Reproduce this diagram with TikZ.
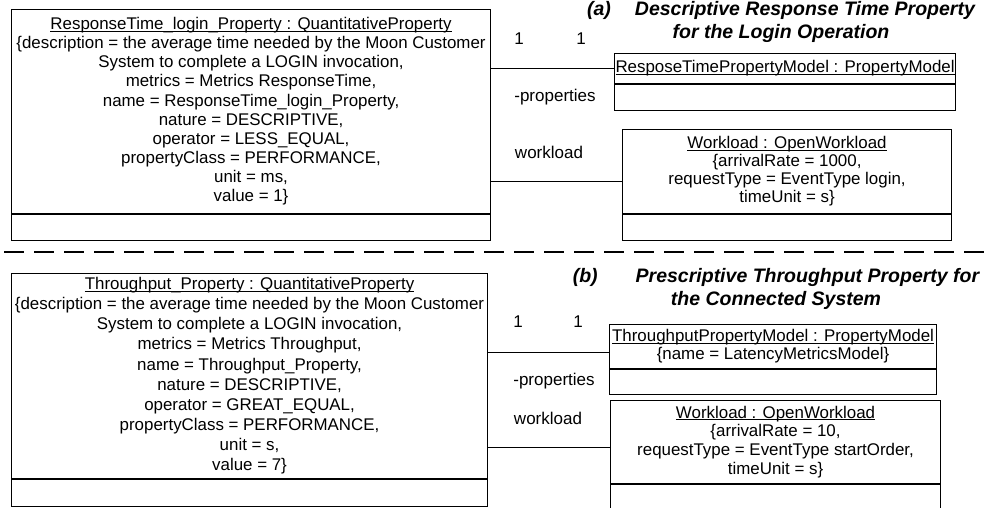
\documentclass[tikz,border=0pt]{standalone}
\usepackage{fontspec}
\setmainfont{Liberation Sans}
\usetikzlibrary{positioning}

\newcommand{\objname}[1]{\underline{\smash{#1}}\vphantom{Ay}}

\tikzset{
  objpart/.style={draw, line width=1.1pt, inner sep=0pt, align=center,
    font=\fontsize{16.9}{#1}\selectfont},
  objpart/.default=19,
  objempty/.style={draw, line width=1.1pt, inner sep=0pt, minimum height=26pt},
  assoc/.style={line width=0.8pt},
  rolelabel/.style={font=\fontsize{17}{19}\selectfont},
  captiontext/.style={font=\fontsize{19.5}{22.5}\selectfont\bfseries\itshape, align=center},
  sepline/.style={line width=2.6pt, dash pattern=on 19.5pt off 10.5pt}
}

\begin{document}
\begin{tikzpicture}[x=1pt,y=-1pt]
  \useasboundingbox (0,0) rectangle (989,508);

  % (a) Descriptive response time property
  \node[objpart=19.1, anchor=north west, minimum width=479pt, minimum height=204pt] (rtprop) at (11,9)
    {\objname{ResponseTime\_login\_Property : QuantitativeProperty}\\
     \{description = the average time needed by the Moon Customer\\
     System to complete a LOGIN invocation,\\
     metrics = Metrics ResponseTime,\\
     name = ResponseTime\_login\_Property,\\
     nature = DESCRIPTIVE,\\
     operator = LESS\_EQUAL,\\
     propertyClass = PERFORMANCE,\\
     unit = ms,\\
     value = 1\}};
  \node[objempty, minimum width=479pt, below=0pt of rtprop] (rtpropops) {};

  \node[objpart, anchor=north west, minimum width=341pt, minimum height=30pt] (rtmodel) at (614,53)
    {\objname{ResposeTimePropertyModel : PropertyModel}};
  \node[objempty, minimum width=341pt, below=0pt of rtmodel] (rtmodelops) {};

  \node[objpart=17.8, anchor=north west, minimum width=329pt, minimum height=84pt] (rtwork) at (622,129)
    {\objname{Workload : OpenWorkload}\\
     \{arrivalRate = 1000,\\
     requestType = EventType login,\\
     timeUnit = s\}};
  \node[objempty, minimum width=329pt, below=0pt of rtwork] (rtworkops) {};

  \draw[assoc] (rtprop.east |- 0,68) -- (rtmodel.west |- 0,68);
  \draw[assoc] (rtprop.east |- 0,181) -- (rtwork.west |- 0,181);

  \node[rolelabel] (rtmult1) at (519,39) {1};
  \node[rolelabel] (rtmult2) at (581,39) {1};
  \node[rolelabel] (rtrole1) at (555,97) {-properties};
  \node[rolelabel] (rtrole2) at (549,152) {workload};

  \node[captiontext] (capa) at (781,22)
    {(a)\hspace{24pt}Descriptive Response Time Property\\for the Login Operation};

  % separator
  \draw[sepline] (4,252) -- (989,252);

  % (b) Prescriptive throughput property
  \node[objpart=20.1, anchor=north west, minimum width=476pt, minimum height=205pt] (tpprop) at (11,273)
    {\objname{Throughput\_Property : QuantitativeProperty}\\
     \{description = the average time needed by the Moon Customer\\
     System to complete a LOGIN invocation,\\
     metrics = Metrics Throughput,\\
     name = Throughput\_Property,\\
     nature = DESCRIPTIVE,\\
     operator = GREAT\_EQUAL,\\
     propertyClass = PERFORMANCE,\\
     unit = s,\\
     value = 7\}};
  \node[objempty, minimum width=476pt, minimum height=27pt, below=0pt of tpprop] (tppropops) {};

  \node[objpart=18, anchor=north west, minimum width=327pt, minimum height=44pt] (tpmodel) at (609,324)
    {\objname{ThroughputPropertyModel : PropertyModel}\\
     \{name = LatencyMetricsModel\}};
  \node[objempty, minimum width=327pt, minimum height=25pt, below=0pt of tpmodel] (tpmodelops) {};

  \node[objpart=18.7, anchor=north west, minimum width=330pt, minimum height=83pt] (tpwork) at (610,400)
    {\objname{Workload : OpenWorkload}\\
     \{arrivalRate = 10,\\
     requestType = EventType startOrder,\\
     timeUnit = s\}};
  \node[objempty, minimum width=330pt, below=0pt of tpwork] (tpworkops) {};

  \draw[assoc] (tpprop.east |- 0,352) -- (tpmodel.west |- 0,352);
  \draw[assoc] (tpprop.east |- 0,447) -- (tpwork.west |- 0,447);

  \node[rolelabel] (tpmult1) at (518,322) {1};
  \node[rolelabel] (tpmult2) at (578,322) {1};
  \node[rolelabel] (tprole1) at (554,381) {-properties};
  \node[rolelabel] (tprole2) at (548,418) {workload};

  \node[captiontext] (capb) at (776,289)
    {(b)\hspace{38pt}Prescriptive Throughput Property for\\the Connected System};
\end{tikzpicture}
\end{document}
